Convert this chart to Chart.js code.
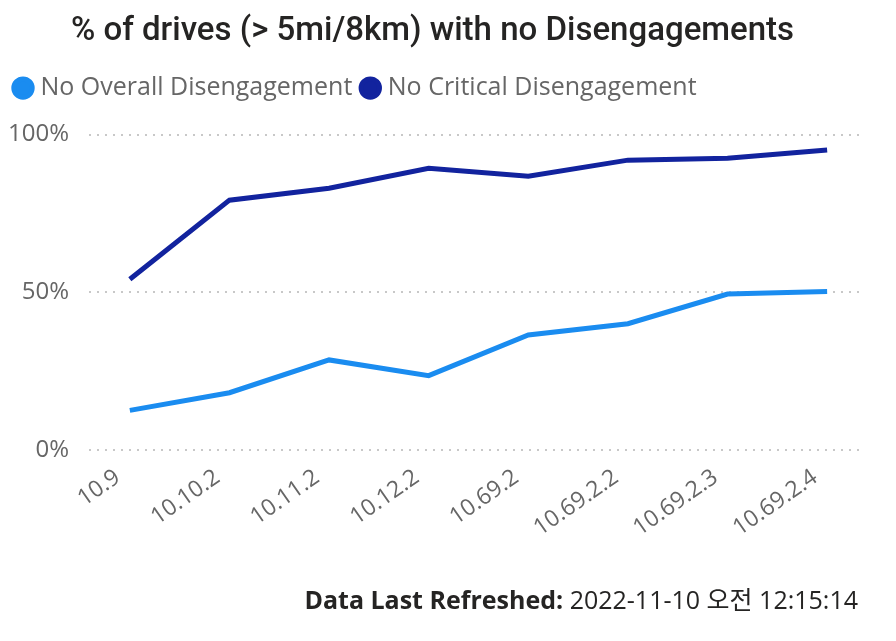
<!DOCTYPE html>
<html>
<head>
<meta charset="utf-8">
<script src="https://cdn.jsdelivr.net/npm/chart.js@4"></script>
<style>
  html, body { margin: 0; padding: 0; background: #fff; }
  .wrap { position: relative; width: 896px; height: 641px; }
  #chart { position: absolute; left: 0; top: 0; }
  .footer {
    position: absolute; right: 38px; top: 580px;
    font-family: "Open Sans", "Noto Sans", "Noto Sans CJK KR", sans-serif;
    font-size: 25px; color: #252423; white-space: nowrap;
  }
  .footer b { font-weight: 700; }
</style>
</head>
<body>
<div class="wrap">
  <canvas id="chart" width="896" height="641"></canvas>
  <div class="footer"><b>Data Last Refreshed:</b> 2022-11-10 <span style="font-family:'Noto Sans CJK KR'">오전</span> 12:15:14</div>
</div>
<script>
// versions on the x axis
const versions = ["10.9", "10.10.2", "10.11.2", "10.12.2", "10.69.2", "10.69.2.2", "10.69.2.3", "10.69.2.4"];

// % of drives with no disengagement
const noOverall = [12.5, 18.1, 28.5, 23.5, 36.4, 40.0, 49.4, 50.2];
const noCritical = [54.1, 79.2, 83.0, 89.3, 86.8, 91.9, 92.5, 95.1];

const yTicks = [0, 50, 100];

const grey = "#666666";
const fam = "'Open Sans', 'Noto Sans', sans-serif";

const toPoints = (vals) => vals.map((v, i) => ({ x: i, y: v }));

new Chart(document.getElementById("chart"), {
  type: "line",
  data: {
    datasets: [
      {
        label: "No Overall Disengagement",
        data: toPoints(noOverall),
        borderColor: "#1A8CF0",
        backgroundColor: "#1A8CF0",
        borderWidth: 5,
        pointRadius: 0,
        tension: 0
      },
      {
        label: "No Critical Disengagement",
        data: toPoints(noCritical),
        borderColor: "#12239E",
        backgroundColor: "#12239E",
        borderWidth: 5,
        pointRadius: 0,
        tension: 0
      }
    ]
  },
  options: {
    responsive: false,
    animation: false,
    layout: { padding: { left: 5, right: 36, top: 6, bottom: 93 } },
    plugins: {
      title: {
        display: true,
        text: "% of drives (> 5mi/8km) with no Disengagements",
        color: "#252423",
        font: { family: "Roboto, 'Noto Sans', sans-serif", size: 33, weight: "500" },
        padding: { top: 6, bottom: 11 }
      },
      legend: {
        align: "start",
        labels: {
          usePointStyle: true,
          pointStyle: "circle",
          boxWidth: 10,
          boxHeight: 13,
          padding: 13,
          color: grey,
          font: { family: fam, size: 25 }
        }
      },
      tooltip: { enabled: false }
    },
    scales: {
      x: {
        type: "linear",
        min: -0.41,
        max: 7.33,
        border: { display: false },
        grid: { display: false },
        afterBuildTicks: (axis) => { axis.ticks = versions.map((v, i) => ({ value: i })); },
        afterFit: (axis) => { axis.paddingLeft = 0; axis.paddingRight = 0; },
        ticks: {
          autoSkip: false,
          minRotation: 35,
          maxRotation: 35,
          labelOffset: -12,
          color: grey,
          padding: 6,
          font: { family: fam, size: 23 },
          callback: (v) => versions[v]
        }
      },
      y: {
        min: 0,
        max: 100,
        border: { display: false, dash: [2, 6] },
        afterBuildTicks: (axis) => { axis.ticks = yTicks.map((v) => ({ value: v })); },
        afterFit: (axis) => { axis.width = 84; },
        grid: {
          color: "#c8c8c8",
          lineWidth: 2,
          drawTicks: false
        },
        ticks: {
          color: grey,
          padding: 20,
          font: { family: fam, size: 24 },
          callback: (v) => v + "%"
        }
      }
    }
  },
  plugins: [{
    // extra room between the legend and the plot
    id: "legendGap",
    beforeInit(chart) {
      const fit = chart.legend.fit;
      chart.legend.fit = function () {
        fit.call(this);
        this.height += 24;
      };
    }
  }]
});
</script>
</body>
</html>
